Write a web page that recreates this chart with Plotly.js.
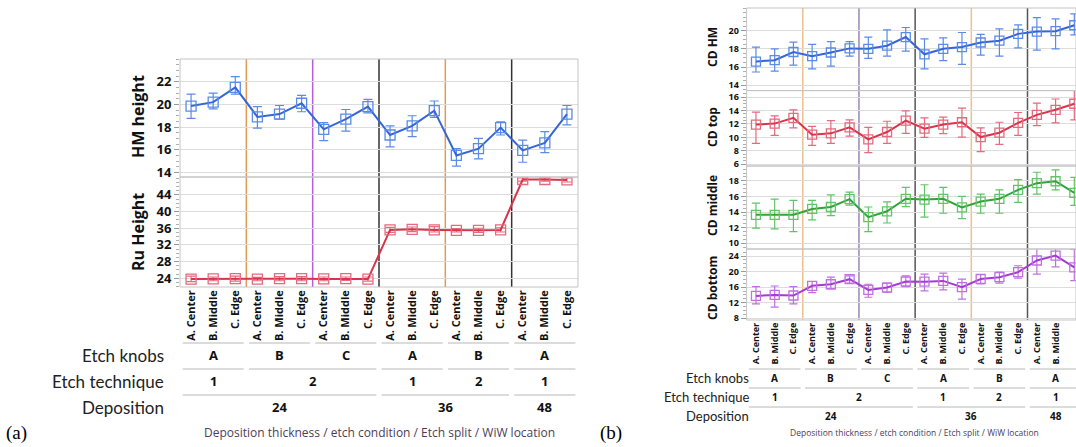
<!DOCTYPE html>
<html>
<head>
<meta charset="utf-8">
<script src="https://cdn.plot.ly/plotly-3.0.1.min.js"></script>
<style>html,body{margin:0;padding:0;background:#fff;}#chart{width:1076px;height:447px;}</style>
</head>
<body>
<div id="chart"></div>
<script>
// ---------- data ----------
const locations = ['A. Center', 'B. Middle', 'C. Edge'];
const knobs = ['A', 'B', 'C', 'A', 'B', 'A'];
const techniques = ['1', '2', '2', '1', '2', '1'];
const depositions = ['24', '24', '24', '36', '36', '48'];
const rowNames = ['Etch knobs', 'Etch technique', 'Deposition'];
const xTitle = 'Deposition thickness / etch condition / Etch split / WiW location';

const hmHeight   = [19.85, 20.2, 21.5, 18.9, 19.15, 20.1, 17.8, 18.7, 19.8, 17.3, 18.1, 19.45, 15.5, 16.1, 17.95, 15.95, 16.6, 19.15];
const hmHeightHi = [20.9, 21.0, 22.45, 19.8, 19.9, 20.8, 18.4, 19.55, 20.45, 18.1, 19.0, 20.3, 16.1, 17.0, 18.45, 16.85, 17.6, 19.9];
const hmHeightLo = [18.76, 19.6, 20.9, 17.9, 18.7, 19.35, 16.8, 17.65, 19.25, 16.25, 17.15, 18.85, 14.55, 15.2, 17.3, 14.9, 15.75, 18.2];

const ruHeight   = [23.8, 23.85, 23.9, 23.8, 23.9, 23.9, 23.85, 23.9, 23.8, 35.6, 35.75, 35.6, 35.5, 35.5, 35.6, 47.7, 47.7, 47.6];
const ruHeightHi = [24.5, 24.3, 24.5, 24.2, 24.4, 24.4, 24.3, 24.3, 24.3, 36.2, 36.3, 36.4, 35.9, 36.0, 36.1, 48.1, 48.1, 48.1];
const ruHeightLo = [23.2, 23.4, 23.3, 23.4, 23.4, 23.4, 23.4, 23.5, 23.3, 35.0, 35.2, 35.1, 35.1, 35.0, 35.1, 47.3, 47.3, 47.1];

const cdHM   = [16.6, 16.75, 17.65, 17.2, 17.6, 18.05, 18.0, 18.35, 19.3, 17.4, 18.0, 18.2, 18.7, 18.9, 19.65, 19.9, 19.95, 20.6];
const cdHMHi = [18.2, 18.0, 18.75, 18.5, 18.8, 18.8, 19.3, 20.1, 20.35, 19.1, 19.2, 19.8, 19.6, 20.2, 20.65, 21.45, 21.3, 21.85];
const cdHMLo = [15.45, 15.55, 16.2, 15.8, 16.1, 17.2, 16.95, 17.2, 17.75, 15.8, 16.7, 16.3, 17.3, 17.2, 18.1, 17.85, 18.0, 19.55];

const cdTop   = [11.9, 12.05, 12.9, 10.4, 10.6, 11.5, 9.7, 10.8, 12.5, 11.3, 11.9, 12.25, 10.05, 10.7, 12.15, 13.35, 14.1, 15.0];
const cdTopHi = [13.75, 13.2, 14.1, 11.65, 12.5, 12.6, 11.5, 12.4, 13.95, 12.9, 13.0, 14.35, 11.4, 12.25, 13.7, 15.1, 15.7, 17.1];
const cdTopLo = [9.1, 10.3, 11.4, 8.8, 9.1, 10.2, 7.75, 9.1, 10.6, 10.0, 10.55, 10.05, 7.9, 8.95, 10.3, 11.75, 12.15, 12.6];

const cdMiddle   = [13.65, 13.65, 13.65, 14.4, 14.65, 15.65, 13.35, 14.1, 15.7, 15.6, 15.7, 14.6, 15.35, 15.7, 16.85, 17.7, 17.95, 16.45];
const cdMiddleHi = [15.15, 15.65, 15.5, 15.5, 16.2, 16.55, 14.65, 15.3, 17.15, 17.5, 17.15, 16.0, 16.3, 16.85, 18.15, 19.1, 19.4, 18.45];
const cdMiddleLo = [11.95, 11.85, 11.5, 13.0, 13.55, 14.9, 11.5, 12.6, 14.7, 13.35, 13.85, 13.15, 13.85, 13.85, 15.25, 16.3, 16.85, 14.85];

const cdBottom   = [13.75, 14.0, 13.85, 16.35, 16.75, 18.05, 15.3, 15.9, 17.45, 17.4, 17.6, 16.0, 18.1, 18.55, 19.85, 22.85, 24.1, 21.1];
const cdBottomHi = [16.15, 16.3, 16.15, 17.45, 18.6, 18.9, 16.75, 17.05, 18.9, 19.35, 19.6, 18.05, 19.2, 19.85, 21.5, 26.2, 26.2, 25.7];
const cdBottomLo = [11.7, 10.85, 11.7, 14.6, 15.55, 17.05, 13.4, 14.7, 16.15, 15.05, 15.3, 12.9, 16.85, 17.05, 18.3, 19.35, 21.2, 17.7];

// ---------- helpers ----------
const W = 1076, H = 447;
const fx = px => px / W;
const fy = py => 1 - py / H;
const nLoc = locations.length;
const idx = hmHeight.map((_, i) => i);
const tickText = idx.map(i => locations[i % nLoc]);

function series(vals, hi, lo, xa, ya, lineColor, boxColor, msize) {
  return {
    type: 'scatter', mode: 'lines+markers', x: idx, y: vals, xaxis: xa, yaxis: ya,
    line: {color: lineColor, width: 2},
    marker: {symbol: 'square-open', size: msize, color: boxColor, line: {width: 1.3, color: boxColor}},
    error_y: {type: 'data', symmetric: false,
      array: hi.map((h, i) => h - vals[i]), arrayminus: lo.map((l, i) => vals[i] - l),
      color: boxColor, thickness: 1.2, width: msize * 0.45},
    hoverinfo: 'skip', showlegend: false
  };
}

const blue = '#3565d6', blueBox = '#5a8be6';
const red = '#d8344a', redBox = '#e46a7e';
const green = '#34a23a', greenBox = '#62c466';
const purple = '#a43cd2', purpleBox = '#c070e2';

const traces = [
  series(hmHeight, hmHeightHi, hmHeightLo, 'x', 'y', blue, blueBox, 10),
  series(ruHeight, ruHeightHi, ruHeightLo, 'x', 'y2', red, redBox, 10),
  series(cdHM, cdHMHi, cdHMLo, 'x2', 'y3', blue, blueBox, 9),
  series(cdTop, cdTopHi, cdTopLo, 'x2', 'y4', red, redBox, 9),
  series(cdMiddle, cdMiddleHi, cdMiddleLo, 'x2', 'y5', green, greenBox, 9),
  series(cdBottom, cdBottomHi, cdBottomLo, 'x2', 'y6', purple, purpleBox, 9)
];

// ---------- panel geometry ----------
const panels = {
  a: {xa: 'x', left: 180, right: 578, top: 59, bottom: 287,
      rowLineY: [343, 369, 395], rowTextY: [355, 381, 407], rowLabelX: 166, rowFont: 17, valFont: 13,
      titleY: 432, titleFont: 12, tag: '(a)', tagX: 4,
      sepColors: {dep: '#333333', tech: '#e39a55', knob: '#b55ee0'}},
  b: {xa: 'x2', left: 746.6, right: 1076, top: 8, bottom: 320,
      rowLineY: [369, 388, 407], rowTextY: [378, 397, 416], rowLabelX: 751, rowFont: 13, valFont: 10,
      titleY: 432, titleFont: 8.5, tag: '(b)', tagX: 598,
      sepColors: {dep: '#555555', tech: '#efbf8c', knob: '#9a86b6'}}
};

// group structures
const nGroups = knobs.length;
function mergeRuns(keys) {
  const runs = [];
  keys.forEach((k, g) => {
    if (runs.length && runs[runs.length - 1].key === k) runs[runs.length - 1].end = g;
    else runs.push({key: k, start: g, end: g});
  });
  return runs;
}
const knobRuns = mergeRuns(knobs.map((k, g) => g + '|' + k)).map(r => ({...r, label: knobs[r.start]}));
const techRuns = mergeRuns(techniques.map((t, g) => depositions[g] + '|' + t)).map(r => ({...r, label: techniques[r.start]}));
const depRuns = mergeRuns(depositions).map(r => ({...r, label: depositions[r.start]}));
const levels = [knobRuns, techRuns, depRuns];

const shapes = [];
const annotations = [];

function addPanel(p) {
  for (let g = 1; g < nGroups; g++) {
    let col = p.sepColors.knob;
    if (depositions[g] !== depositions[g - 1]) col = p.sepColors.dep;
    else if (techniques[g] !== techniques[g - 1]) col = p.sepColors.tech;
    const xv = g * nLoc - 0.5;
    shapes.push({type: 'line', xref: p.xa, yref: 'paper', x0: xv, x1: xv,
      y0: fy(p.bottom), y1: fy(p.top), line: {color: col, width: 1.5}, layer: 'between'});
  }
  levels.forEach((runs, li) => {
    runs.forEach(r => {
      const x0 = r.start * nLoc - 0.5, x1 = r.end * nLoc + nLoc - 0.5;
      shapes.push({type: 'line', xref: p.xa, yref: 'paper', x0: x0 + 0.12, x1: x1 - 0.12,
        y0: fy(p.rowLineY[li]), y1: fy(p.rowLineY[li]), line: {color: '#b8b8b8', width: 1}});
      annotations.push({xref: p.xa, yref: 'paper', x: (x0 + x1) / 2, y: fy(p.rowTextY[li]),
        text: '<b>' + r.label + '</b>', showarrow: false, xanchor: 'center', yanchor: 'middle',
        font: {family: 'Open Sans, DejaVu Sans, sans-serif', size: p.valFont, color: '#111'}});
    });
    annotations.push({xref: 'paper', yref: 'paper', x: fx(p.rowLabelX), y: fy(p.rowTextY[li]),
      text: rowNames[li], showarrow: false, xanchor: 'right', yanchor: 'middle',
      font: {family: 'Lato, Noto Sans, sans-serif', size: p.rowFont, color: '#222'}});
  });
  annotations.push({xref: 'paper', yref: 'paper', x: fx((p.left + Math.min(p.right, 1084)) / 2 + (p.xa === 'x2' ? 3 : 0)), y: fy(p.titleY),
    text: xTitle, showarrow: false, xanchor: 'center', yanchor: 'middle',
    font: {family: 'Open Sans, Noto Sans, sans-serif', size: p.titleFont, color: '#4e3c5c'}});
  annotations.push({xref: 'paper', yref: 'paper', x: fx(p.tagX), y: fy(433), text: p.tag, showarrow: false,
    xanchor: 'left', yanchor: 'middle', font: {family: 'Liberation Serif, serif', size: 19, color: '#000'}});
}
addPanel(panels.a);
addPanel(panels.b);

['y', 'y2'].forEach(ya => shapes.push({type: 'rect', xref: 'x domain', yref: ya + ' domain', x0: 0, x1: 1, y0: 0, y1: 1, line: {color: '#c4c4c4', width: 1}}));
['y3', 'y4', 'y5', 'y6'].forEach(ya => shapes.push({type: 'rect', xref: 'x2 domain', yref: ya + ' domain', x0: 0, x1: 1, y0: 0, y1: 1, line: {color: '#c4c4c4', width: 1}}));

const yTitles = [
  {text: 'HM height', x: 138, y: 117, size: 16},
  {text: 'Ru Height', x: 138, y: 232, size: 16},
  {text: 'CD HM', x: 712, y: 47, size: 12},
  {text: 'CD top', x: 712, y: 127, size: 12},
  {text: 'CD middle', x: 712, y: 206, size: 12},
  {text: 'CD bottom', x: 712, y: 288, size: 12}
];
yTitles.forEach(t => annotations.push({xref: 'paper', yref: 'paper', x: fx(t.x), y: fy(t.y),
  text: '<b>' + t.text + '</b>', textangle: -90, showarrow: false, xanchor: 'center', yanchor: 'middle',
  font: {family: 'Open Sans, DejaVu Sans, sans-serif', size: t.size, color: '#111'}}));

function yax(top, bottom, range, ticks, minor, fontSize, anchor) {
  return {domain: [fy(bottom), fy(top)], range: range, anchor: anchor,
    tickmode: 'array', tickvals: ticks, ticktext: ticks.map(String),
    tickfont: {family: 'Open Sans, DejaVu Sans, sans-serif', size: fontSize, color: '#111', weight: 'bold'},
    ticks: 'outside', ticklen: 5, tickcolor: '#9a9a9a', tickwidth: 1,
    minor: {dtick: minor, ticklen: 3, tickcolor: '#b0b0b0', ticks: 'outside', showgrid: false},
    showgrid: true, gridcolor: '#dcdcdc', gridwidth: 1, zeroline: false, showline: false, fixedrange: true};
}

const layout = {
  width: W, height: H, margin: {l: 0, r: 0, t: 0, b: 0},
  paper_bgcolor: '#fff', plot_bgcolor: '#fff', showlegend: false,
  xaxis: {domain: [fx(180), fx(578)], range: [-0.5, 17.5], anchor: 'y2',
    tickmode: 'array', tickvals: idx, ticktext: tickText, tickangle: -90,
    tickfont: {family: 'Open Sans, DejaVu Sans, sans-serif', size: 11, color: '#111', weight: 'bold'},
    ticks: '', showgrid: false, zeroline: false, showline: false, fixedrange: true},
  xaxis2: {domain: [fx(746.6), 1], range: [-0.5, 17.09], anchor: 'y6',
    tickmode: 'array', tickvals: idx, ticktext: tickText, tickangle: -90,
    tickfont: {family: 'Open Sans, DejaVu Sans, sans-serif', size: 9, color: '#111', weight: 'bold'},
    ticks: '', showgrid: false, zeroline: false, showline: false, fixedrange: true},
  yaxis:  yax(59, 177, [13.6, 24.0], [14, 16, 18, 20, 22], 0.5, 13, 'x'),
  yaxis2: yax(177, 287, [21.9, 48.3], [24, 28, 32, 36, 40, 44], 1, 13, 'x'),
  yaxis3: yax(8, 90.6, [13.4, 22.5], [14, 16, 18, 20], 0.5, 9, 'x2'),
  yaxis4: yax(90.6, 166, [5.75, 16.95], [6, 8, 10, 12, 14, 16], 0.5, 9, 'x2'),
  yaxis5: yax(166, 249, [9.27, 19.9], [10, 12, 14, 16, 18], 0.5, 9, 'x2'),
  yaxis6: yax(249, 320, [7.56, 25.8], [8, 12, 16, 20, 24], 1, 9, 'x2'),
  shapes: shapes, annotations: annotations
};

Plotly.newPlot('chart', traces, layout, {displayModeBar: false, staticPlot: true});
</script>
</body>
</html>
